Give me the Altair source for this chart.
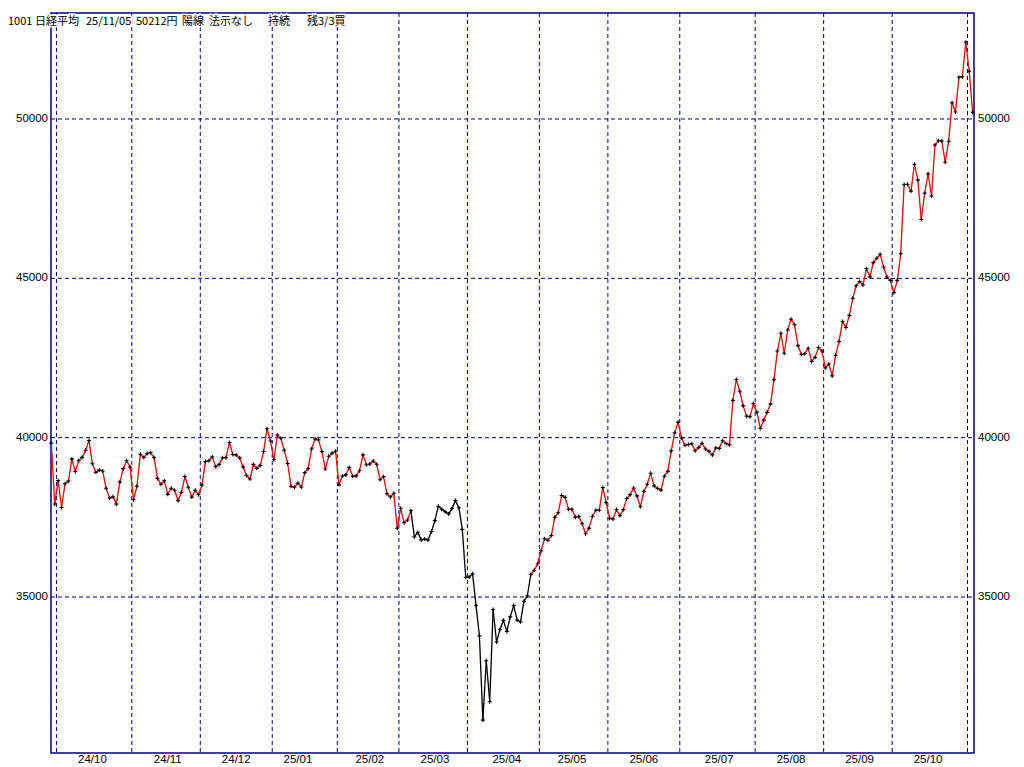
import altair as alt
import pandas as pd

# ---------------- data ----------------
dates = [
    "2024-09-27", "2024-09-30",
    "2024-10-01", "2024-10-02", "2024-10-03", "2024-10-04", "2024-10-07", "2024-10-08", "2024-10-09",
    "2024-10-10", "2024-10-11", "2024-10-15", "2024-10-16", "2024-10-17", "2024-10-18", "2024-10-21",
    "2024-10-22", "2024-10-23", "2024-10-24", "2024-10-25", "2024-10-28", "2024-10-29", "2024-10-30",
    "2024-10-31",
    "2024-11-01", "2024-11-05", "2024-11-06", "2024-11-07", "2024-11-08", "2024-11-11", "2024-11-12",
    "2024-11-13", "2024-11-14", "2024-11-15", "2024-11-18", "2024-11-19", "2024-11-20", "2024-11-21",
    "2024-11-22", "2024-11-25", "2024-11-26", "2024-11-27", "2024-11-28", "2024-11-29",
    "2024-12-02", "2024-12-03", "2024-12-04", "2024-12-05", "2024-12-06", "2024-12-09", "2024-12-10",
    "2024-12-11", "2024-12-12", "2024-12-13", "2024-12-16", "2024-12-17", "2024-12-18", "2024-12-19",
    "2024-12-20", "2024-12-23", "2024-12-24", "2024-12-25", "2024-12-26", "2024-12-27", "2024-12-30",
    "2025-01-06", "2025-01-07", "2025-01-08", "2025-01-09", "2025-01-10", "2025-01-14", "2025-01-15",
    "2025-01-16", "2025-01-17", "2025-01-20", "2025-01-21", "2025-01-22", "2025-01-23", "2025-01-24",
    "2025-01-27", "2025-01-28", "2025-01-29", "2025-01-30", "2025-01-31",
    "2025-02-03", "2025-02-04", "2025-02-05", "2025-02-06", "2025-02-07", "2025-02-10", "2025-02-12",
    "2025-02-13", "2025-02-14", "2025-02-17", "2025-02-18", "2025-02-19", "2025-02-20", "2025-02-21",
    "2025-02-25", "2025-02-26", "2025-02-27", "2025-02-28",
    "2025-03-03", "2025-03-04", "2025-03-05", "2025-03-06", "2025-03-07", "2025-03-10", "2025-03-11",
    "2025-03-12", "2025-03-13", "2025-03-14", "2025-03-17", "2025-03-18", "2025-03-19", "2025-03-21",
    "2025-03-24", "2025-03-25", "2025-03-26", "2025-03-27", "2025-03-28", "2025-03-31",
    "2025-04-01", "2025-04-02", "2025-04-03", "2025-04-04", "2025-04-07", "2025-04-08", "2025-04-09",
    "2025-04-10", "2025-04-11", "2025-04-14", "2025-04-15", "2025-04-16", "2025-04-17", "2025-04-18",
    "2025-04-21", "2025-04-22", "2025-04-23", "2025-04-24", "2025-04-25", "2025-04-28", "2025-04-30",
    "2025-05-01", "2025-05-02", "2025-05-07", "2025-05-08", "2025-05-09", "2025-05-12", "2025-05-13",
    "2025-05-14", "2025-05-15", "2025-05-16", "2025-05-19", "2025-05-20", "2025-05-21", "2025-05-22",
    "2025-05-23", "2025-05-26", "2025-05-27", "2025-05-28", "2025-05-29", "2025-05-30",
    "2025-06-02", "2025-06-03", "2025-06-04", "2025-06-05", "2025-06-06", "2025-06-09", "2025-06-10",
    "2025-06-11", "2025-06-12", "2025-06-13", "2025-06-16", "2025-06-17", "2025-06-18", "2025-06-19",
    "2025-06-20", "2025-06-23", "2025-06-24", "2025-06-25", "2025-06-26", "2025-06-27", "2025-06-30",
    "2025-07-01", "2025-07-02", "2025-07-03", "2025-07-04", "2025-07-07", "2025-07-08", "2025-07-09",
    "2025-07-10", "2025-07-11", "2025-07-14", "2025-07-15", "2025-07-16", "2025-07-17", "2025-07-18",
    "2025-07-22", "2025-07-23", "2025-07-24", "2025-07-25", "2025-07-28", "2025-07-29", "2025-07-30",
    "2025-07-31",
    "2025-08-01", "2025-08-04", "2025-08-05", "2025-08-06", "2025-08-07", "2025-08-08", "2025-08-12",
    "2025-08-13", "2025-08-14", "2025-08-15", "2025-08-18", "2025-08-19", "2025-08-20", "2025-08-21",
    "2025-08-22", "2025-08-25", "2025-08-26", "2025-08-27", "2025-08-28", "2025-08-29",
    "2025-09-01", "2025-09-02", "2025-09-03", "2025-09-04", "2025-09-05", "2025-09-08", "2025-09-09",
    "2025-09-10", "2025-09-11", "2025-09-12", "2025-09-16", "2025-09-17", "2025-09-18", "2025-09-19",
    "2025-09-22", "2025-09-24", "2025-09-25", "2025-09-26", "2025-09-29", "2025-09-30",
    "2025-10-01", "2025-10-02", "2025-10-03", "2025-10-06", "2025-10-07", "2025-10-08", "2025-10-09",
    "2025-10-10", "2025-10-14", "2025-10-15", "2025-10-16", "2025-10-17", "2025-10-20", "2025-10-21",
    "2025-10-22", "2025-10-23", "2025-10-24", "2025-10-27", "2025-10-28", "2025-10-29", "2025-10-30",
    "2025-10-31",
    "2025-11-04", "2025-11-05",
]

closes = [
    39830, 37920,
    38652, 37809, 38552, 38636, 39333, 38938, 39278, 39381, 39606, 39911, 39180, 38911, 38982, 38955,
    38412, 38105, 38143, 37914, 38606, 39028, 39277, 39081,
    38054, 38475, 39481, 39381, 39500, 39533, 39376, 38722, 38536, 38643, 38221, 38414, 38352, 38026,
    38284, 38780, 38442, 38135, 38349, 38208,
    38513, 39249, 39276, 39396, 39091, 39161, 39368, 39372, 39849, 39470, 39457, 39365, 39082, 38814,
    38702, 39161, 39037, 39130, 39568, 40281, 39895,
    39307, 40083, 39981, 39605, 39190, 38474, 38445, 38573, 38451, 38903, 39028, 39646, 39959, 39932,
    39566, 39017, 39415, 39514, 39572,
    38520, 38798, 38831, 39067, 38787, 38801, 38964, 39461, 39149, 39174, 39270, 39165, 38678, 38777,
    38238, 38142, 38256, 37156,
    37785, 37331, 37418, 37705, 36887, 37028, 36793, 36819, 36790, 37053, 37397, 37845, 37752, 37677,
    37608, 37781, 38027, 37800, 37120, 35618,
    35624, 35726, 34736, 33781, 31137, 32998, 31714, 34609, 33586, 33982, 34268, 33920, 34378, 34730,
    34280, 34221, 34869, 35039, 35706, 35840, 36045,
    36452, 36831, 36780, 36929, 37503, 37644, 38183, 38128, 37756, 37754, 37499, 37529, 37299, 36986,
    37160, 37532, 37724, 37722, 38433, 37965,
    37471, 37447, 37747, 37554, 37742, 38089, 38212, 38421, 38173, 37834, 38311, 38537, 38885, 38488,
    38403, 38354, 38791, 38942, 39585, 40151, 40487,
    39986, 39762, 39786, 39811, 39588, 39689, 39821, 39646, 39570, 39460, 39678, 39663, 39901, 39819,
    39775, 41171, 41826, 41456, 40998, 40675, 40655, 41070,
    40800, 40291, 40550, 40795, 41059, 41820, 42718, 43275, 42649, 43378, 43714, 43546, 42889, 42610,
    42633, 42808, 42394, 42520, 42829, 42718,
    42189, 42310, 41939, 42580, 43019, 43644, 43459, 43838, 44373, 44768, 44902, 44790, 45303, 45046,
    45494, 45630, 45755, 45355, 45044, 44933,
    44551, 44937, 45770, 47945, 47951, 47735, 48580, 48089, 46847, 47673, 48278, 47582, 49186, 49316,
    49308, 48642, 49300, 50512, 50219, 51308, 51326, 52411,
    51497, 50212,
]

# colour of the line between day i and day i+1: (colour, first segment, last segment)
color_runs = [("#ff0000", 0, 104), ("#000000", 105, 139), ("#ff0000", 140, 268)]

y_ticks = [35000, 40000, 45000, 50000]

title_parts = ["1001", "日経平均", "25/11/05", "50212円", "陽線", "法示なし", "持続", "残3/3買"]

# ---------------- layout ----------------
W, H = 923, 740
NAVY = "#000080"
FONT = "Liberation Sans"
JFONT = "Noto Sans CJK JP"
title_x = [8, 35, 86, 136, 182, 209, 268, 307]   # page x of each title part

n = len(closes)
pts = pd.DataFrame({"i": list(range(n)), "close": closes, "date": dates})

seg_rows = []
for col, a, b in color_runs:
    for i in range(a, b + 1):
        seg_rows.append({"i": i, "i2": i + 1, "c1": closes[i], "c2": closes[i + 1], "col": col})
segs = pd.DataFrame(seg_rows)

# month boundaries and month label positions derived from dates
month_start, month_label_pos, month_labels = [], [], []
prev = None
for i, d in enumerate(dates):
    ym = d[:7]
    if ym != prev and prev is not None:
        month_start.append(i)
    prev = ym
months = sorted(set(d[:7] for d in dates))
for ym in months:
    idx = [i for i, d in enumerate(dates) if d[:7] == ym and int(d[8:10]) >= 16]
    first = [i for i, d in enumerate(dates) if d[:7] == ym]
    if first and first[0] in month_start and idx and (ym != months[-1]):
        month_label_pos.append(idx[0])
        month_labels.append(ym[2:4] + "/" + ym[5:7])

vgrid = pd.DataFrame({"b": [m - 0.5 for m in month_start]})
hgrid = pd.DataFrame({"v": y_ticks, "lab": [str(v) for v in y_ticks]})
mlab = pd.DataFrame({"i": month_label_pos, "lab": month_labels})
tdf = pd.DataFrame({"t": title_parts, "px": [x - 51 for x in title_x]})

xs = alt.Scale(domain=[-0.09, 269.4], nice=False, zero=False)
ys = alt.Scale(domain=[30105, 53326], nice=False, zero=False)

base = alt.Chart(pts)

h_rules = alt.Chart(hgrid).mark_rule(color=NAVY, strokeWidth=1, strokeDash=[4, 3]).encode(
    y=alt.Y("v:Q", scale=ys, axis=None), x=alt.value(0), x2=alt.value(W))

v_rules = alt.Chart(vgrid).mark_rule(color=NAVY, strokeWidth=1, strokeDash=[4, 3]).encode(
    x=alt.X("b:Q", scale=xs, axis=None), y=alt.value(0), y2=alt.value(H))

lines = alt.Chart(segs).mark_rule(strokeWidth=1.3).encode(
    x=alt.X("i:Q", scale=xs, axis=None), x2="i2:Q",
    y=alt.Y("c1:Q", scale=ys, axis=None), y2="c2:Q",
    color=alt.Color("col:N", scale=None))

marks = base.mark_point(shape="M-1,0H1M0,-1V1", size=16, filled=False, color="black",
                        strokeWidth=1.1, opacity=1).encode(
    x=alt.X("i:Q", scale=xs, axis=None), y=alt.Y("close:Q", scale=ys, axis=None))

left_lab = alt.Chart(hgrid).mark_text(align="right", baseline="middle", font=FONT, fontSize=11.5,
                                      color="black").encode(
    y=alt.Y("v:Q", scale=ys, axis=None), x=alt.value(-3), text="lab:N")
right_lab = alt.Chart(hgrid).mark_text(align="left", baseline="middle", font=FONT, fontSize=11.5,
                                       color="black").encode(
    y=alt.Y("v:Q", scale=ys, axis=None), x=alt.value(W + 4), text="lab:N")

month_txt = alt.Chart(mlab).mark_text(align="center", baseline="middle", font=FONT, fontSize=11.5,
                                      color="black").encode(
    x=alt.X("i:Q", scale=xs, axis=None), y=alt.value(H + 6.5), text="lab:N")

title_halo = alt.Chart(tdf).mark_text(align="left", baseline="top", font=JFONT, fontSize=11,
                                      color="white", stroke="white", strokeWidth=3).encode(
    x=alt.X("px:Q", scale=None), y=alt.value(2.5), text="t:N")
title_txt = alt.Chart(tdf).mark_text(align="left", baseline="top", font=JFONT, fontSize=11,
                                     color="black").encode(
    x=alt.X("px:Q", scale=None), y=alt.value(2.5), text="t:N")

chart = alt.layer(h_rules, v_rules, lines, marks, left_lab, right_lab, month_txt,
                  title_halo, title_txt).properties(
    width=W, height=H,
    autosize=alt.AutoSizeParams(type="none"),
    padding={"left": 43, "top": 5, "right": 42, "bottom": 13},
    background="white",
).configure_view(stroke=NAVY, strokeWidth=1.5)

chart.save("out.html", embed_options={"renderer": "svg", "actions": False})
